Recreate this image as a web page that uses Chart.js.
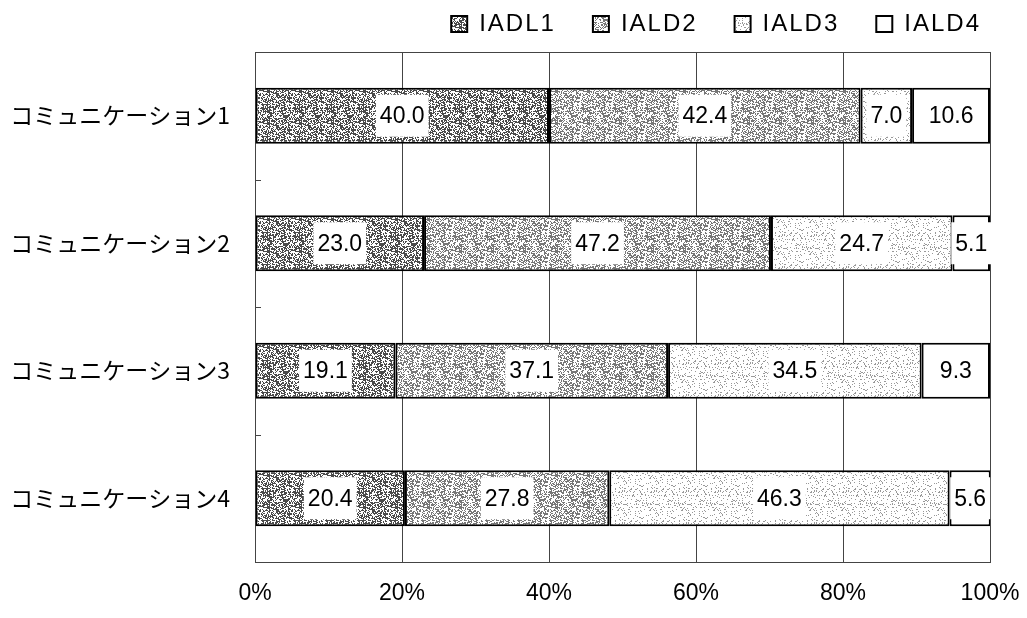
<!DOCTYPE html>
<html>
<head>
<meta charset="utf-8">
<script src="https://cdn.jsdelivr.net/npm/chart.js@4"></script>
<style>
  html, body { margin: 0; padding: 0; background: #fff; }
  #wrap { width: 1027px; height: 618px; }
</style>
</head>
<body>
<div id="wrap"><canvas id="chart" width="1027" height="618"></canvas></div>
<script>
// Chart data
const categories = ['コミュニケーション1', 'コミュニケーション2', 'コミュニケーション3', 'コミュニケーション4'];
const seriesNames = ['IADL1', 'IALD2', 'IALD3', 'IALD4'];
const iadl1 = [40.0, 23.0, 19.1, 20.4];
const iald2 = [42.4, 47.2, 37.1, 27.8];
const iald3 = [7.0, 24.7, 34.5, 46.3];
const iald4 = [10.6, 5.1, 9.3, 5.6];
const xTicks = [0, 20, 40, 60, 80, 100];

// Grainy screen tone like the printed original (fixed seed, texture only)
function makeTone(density, ink) {
    const size = 32;
    const c = document.createElement('canvas');
    c.width = size; c.height = size;
    const g = c.getContext('2d');
    g.fillStyle = '#fff';
    g.fillRect(0, 0, size, size);
    g.fillStyle = ink;
    let seed = 12345;
    const next = () => {
        seed = (seed * 1103515245 + 12345) & 0x7fffffff;
        return seed / 0x7fffffff;
    };
    for (let y = 0; y < size; y++) {
        for (let x = 0; x < size; x++) {
            // slight diagonal bias gives the hatched look
            const diag = ((x + y) % 4 === 0) ? 0.1 : 0;
            if (next() < density + diag) g.fillRect(x, y, 1, 1);
        }
    }
    return g.createPattern(c, 'repeat');
}

const ctx = document.getElementById('chart').getContext('2d');
const fills = [
    makeTone(0.5, '#4a4a4a'),
    makeTone(0.45, '#777'),
    makeTone(0.12, '#999'),
    '#ffffff'
];
const values = [iadl1, iald2, iald3, iald4];

// Legend: wider letter spacing, fixed height, nudged to match the original
const legendTweak = {
    id: 'legendTweak',
    beforeInit(chart) {
        const lg = chart.legend;
        const origFit = lg.fit;
        const origDraw = lg.draw;
        lg.fit = function () {
            this.ctx.letterSpacing = '2px';
            origFit.call(this);
            this.ctx.letterSpacing = '0px';
            this.height = 52;
        };
        lg.draw = function () {
            this.ctx.letterSpacing = '2px';
            origDraw.call(this);
            this.ctx.letterSpacing = '0px';
        };
    },
    afterLayout(chart) {
        const lg = chart.legend;
        lg.top -= 25;
        lg.left += 28;
        lg.right += 28;
    }
};

// Frame around the plot area plus small inward ticks between categories
const frame = {
    id: 'frame',
    beforeDatasetsDraw(chart) {
        const { ctx, chartArea: a } = chart;
        const y = chart.scales.y;
        ctx.save();
        ctx.strokeStyle = '#444';
        ctx.lineWidth = 1;
        ctx.strokeRect(a.left + 0.5, a.top + 0.5, a.right - a.left, a.bottom - a.top);
        const half = (y.getPixelForValue(1) - y.getPixelForValue(0)) / 2;
        ctx.beginPath();
        for (let i = 0; i < categories.length - 1; i++) {
            const py = Math.round(y.getPixelForValue(i) + half) + 0.5;
            ctx.moveTo(a.left, py);
            ctx.lineTo(a.left + 6, py);
        }
        ctx.stroke();
        ctx.restore();
    }
};

// Value labels on white boxes in the middle of each segment
const valueLabels = {
    id: 'valueLabels',
    afterDatasetsDraw(chart) {
        const c = chart.ctx;
        c.save();
        c.font = '23px "Liberation Sans", Arial, sans-serif';
        c.textAlign = 'center';
        c.textBaseline = 'middle';
        chart.data.datasets.forEach((ds, i) => {
            chart.getDatasetMeta(i).data.forEach((bar, j) => {
                const text = ds.data[j].toFixed(1);
                const cx = (bar.x + bar.base) / 2;
                const cy = bar.y;
                const w = c.measureText(text).width + 8;
                const h = 42;
                c.fillStyle = '#fff';
                c.fillRect(cx - w / 2, cy - h / 2, w, h);
                c.fillStyle = '#000';
                c.fillText(text, cx, cy + 1);
            });
        });
        c.restore();
    }
};

new Chart(ctx, {
    type: 'bar',
    data: {
        labels: categories,
        datasets: seriesNames.map((name, i) => ({
            label: name,
            data: values[i],
            backgroundColor: fills[i],
            borderColor: '#000',
            borderWidth: 2,
            borderSkipped: false,
            categoryPercentage: 1,
            barPercentage: 0.44
        }))
    },
    options: {
        indexAxis: 'y',
        responsive: false,
        animation: false,
        events: [],
        layout: { padding: { left: 0, right: 37, top: 0, bottom: 0 } },
        plugins: {
            tooltip: { enabled: false },
            legend: {
                position: 'top',
                align: 'end',
                labels: {
                    color: '#000',
                    font: { family: '"Liberation Sans", Arial, sans-serif', size: 24 },
                    boxWidth: 16,
                    boxHeight: 16,
                    padding: 37,
                    useBorderRadius: false
                }
            }
        },
        scales: {
            x: {
                stacked: true,
                min: 0,
                max: 100,
                afterBuildTicks(scale) {
                    scale.ticks = xTicks.map(v => ({ value: v }));
                },
                afterFit(scale) {
                    scale.height = 56;
                    scale.paddingLeft = 0;
                    scale.paddingRight = 0;
                },
                grid: { color: '#444', lineWidth: 1, drawTicks: false },
                border: { display: false },
                ticks: {
                    color: '#000',
                    padding: 18,
                    font: { family: '"Liberation Sans Narrow", "Liberation Sans", sans-serif', size: 23 },
                    callback: v => v + '%'
                }
            },
            y: {
                stacked: true,
                afterFit(scale) { scale.width = 255; },
                grid: { display: false },
                border: { display: false },
                ticks: {
                    color: '#000',
                    padding: 17,
                    font: { family: '"Noto Sans CJK JP", sans-serif', size: 23 }
                }
            }
        }
    },
    plugins: [legendTweak, frame, valueLabels]
});
</script>
</body>
</html>
